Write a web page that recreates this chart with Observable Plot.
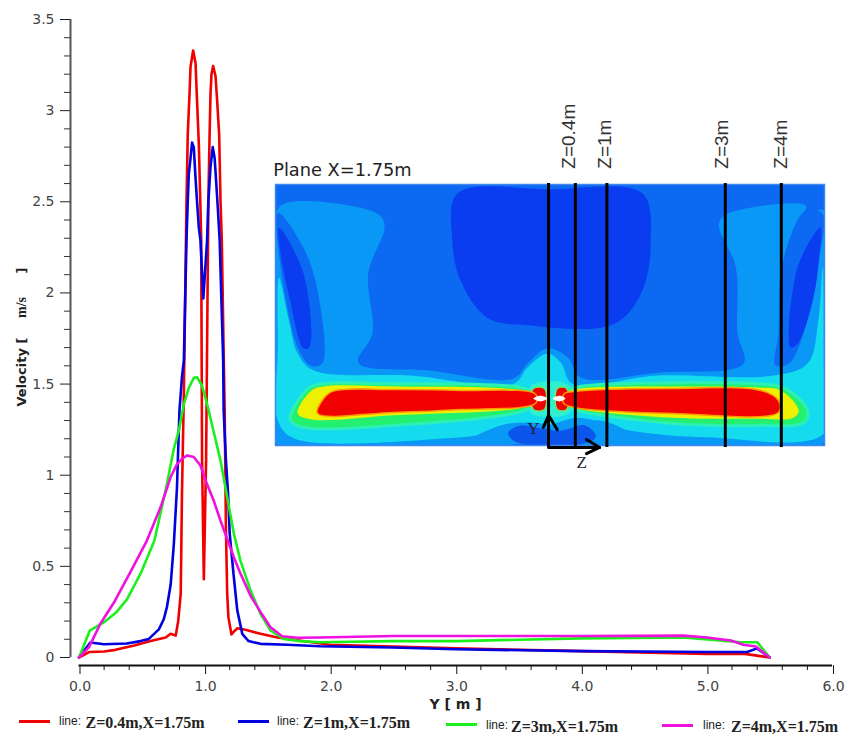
<!DOCTYPE html>
<html><head><meta charset="utf-8">
<script src="https://cdn.jsdelivr.net/npm/d3@7"></script>
<script src="https://cdn.jsdelivr.net/npm/@observablehq/plot@0.6"></script>
<style>
html,body{margin:0;padding:0;background:#fff;width:848px;height:737px;overflow:hidden}
#wrap{position:relative;width:848px;height:737px}
#wrap svg{position:absolute}
.sw{position:absolute;height:3px;width:31px}
.ln{position:absolute;font:12px "Liberation Sans",sans-serif;color:#222;white-space:nowrap}
.lb{position:absolute;font:bold 16px "Liberation Serif",serif;color:#222;white-space:nowrap}
</style></head><body><div id="wrap"></div>
<script>
// Velocity profiles: [Y (m), velocity (m/s)]
const redLine = [[0,0],[.08,.03],[.2,.033],[.29,.042],[.44,.066],[.57,.09],[.69,.11],[.73,.13],[.77,.12],[.79,.2],[.81,.35],[.82,.9],[.835,1.45],[.856,2.5],[.866,2.87],[.88,3.09],[.888,3.24],[.909,3.33],[.928,3.26],[.94,3.055],[.954,2.82],[.967,2.47],[.973,2.29],[.98,1.08],[.994,.43],[1.012,1.08],[1.03,2.5],[1.04,2.87],[1.047,3.09],[1.055,3.2],[1.068,3.245],[1.087,3.19],[1.1,3.055],[1.116,2.87],[1.127,2.5],[1.137,2.29],[1.153,1.63],[1.16,1.355],[1.17,.715],[1.18,.35],[1.19,.22],[1.214,.126],[1.23,.14],[1.26,.16],[1.325,.152],[1.445,.13],[1.58,.11],[1.71,.097],[2,.07],[2.5,.06],[3,.05],[4,.035],[5,.02],[5.3,.02],[5.5,0]];
const blueLine = [[0,0],[.09,.082],[.2,.073],[.38,.077],[.49,.09],[.556,.102],[.636,.154],[.675,.21],[.7,.276],[.73,.4],[.755,.62],[.78,.93],[.8,1.355],[.82,1.54],[.835,1.63],[.856,2.29],[.866,2.5],[.874,2.65],[.888,2.74],[.9,2.825],[.914,2.8],[.928,2.63],[.94,2.5],[.954,2.36],[.967,2.29],[.99,1.97],[1.02,2.29],[1.03,2.5],[1.047,2.69],[1.065,2.8],[1.08,2.74],[1.095,2.58],[1.105,2.47],[1.12,2.29],[1.148,1.63],[1.152,1.355],[1.17,1.08],[1.187,.9],[1.2,.68],[1.23,.46],[1.26,.26],[1.3,.13],[1.35,.09],[1.445,.075],[1.66,.07],[1.92,.062],[2.5,.055],[3,.045],[4,.035],[5,.03],[5.32,.03],[5.4,.05],[5.5,0]];
const greenLine = [[0,0],[.086,.148],[.2,.194],[.3,.25],[.383,.32],[.49,.46],[.6,.64],[.7,.95],[.755,1.145],[.795,1.245],[.835,1.39],[.875,1.48],[.914,1.534],[.94,1.538],[.98,1.49],[1.02,1.39],[1.07,1.245],[1.127,1.08],[1.18,.88],[1.233,.68],[1.286,.53],[1.365,.37],[1.445,.24],[1.525,.148],[1.63,.102],[1.76,.09],[1.92,.084],[2.5,.09],[3,.09],[4,.105],[4.81,.11],[5.1,.093],[5.27,.084],[5.4,.084],[5.5,0]];
const magentaLine = [[0,0],[.08,.057],[.17,.185],[.277,.3],[.41,.47],[.54,.64],[.65,.825],[.73,.99],[.78,1.06],[.82,1.09],[.86,1.108],[.914,1.1],[.967,1.053],[1.02,.95],[1.073,.86],[1.127,.75],[1.18,.65],[1.233,.55],[1.286,.46],[1.365,.34],[1.445,.25],[1.525,.166],[1.618,.117],[1.74,.108],[1.92,.11],[2.5,.118],[3,.118],[4,.118],[4.81,.12],[5,.11],[5.19,.093],[5.29,.07],[5.39,.06],[5.5,0]];
const seriesLines = [redLine, blueLine, greenLine, magentaLine];
const seriesColors = ["#f00000","#0000e0","#1cf01c","#f010e0"];
const legendNames = ["Z=0.4m,X=1.75m","Z=1m,X=1.75m","Z=3m,X=1.75m","Z=4m,X=1.75m"];

const xMajor = [0,1,2,3,4,5,6];
const xMinor = [.2,.4,.6,.8,1.2,1.4,1.6,1.8,2.2,2.4,2.6,2.8,3.2,3.4,3.6,3.8,4.2,4.4,4.6,4.8,5.2,5.4,5.6,5.8];
const yMajor = [0,.5,1,1.5,2,2.5,3,3.5];
const yMinor = [.1,.2,.3,.4,.6,.7,.8,.9,1.1,1.2,1.3,1.4,1.6,1.7,1.8,1.9,2.1,2.2,2.3,2.4,2.6,2.7,2.8,2.9,3.1,3.2,3.3,3.4];

// Inset contour regions, in plane coordinates [Z (m), Y (m)]
const lightRegion = [[-4.68,4.84],[-4.49,5.07],[-2.93,4.84],[-2.81,4.59],[-3.09,3.59],[-3.02,2.34],[-3.26,1.73],[-2.08,1.57],[-.6,1.4],[-.36,1.71],[-.02,2.03],[.33,1.84],[.55,1.42],[1.87,1.52],[3.34,1.71],[3.24,2.34],[3.21,3.72],[2.92,4.63],[3.07,4.84],[4.41,5.01],[4.37,4.8],[4.72,4.91],[4.72,.06],[0,.06],[-4.68,.06]];
const midLeft = [[-4.64,4.86],[-4.2,4.13],[-3.96,3.24],[-3.88,1.71],[-4.08,1.67],[-4.3,2.05],[-4.59,3.72]];
const midRight = [[4.01,3.8],[4.41,4.91],[4.7,4.84],[4.63,3.86],[4.37,2.34],[4.12,1.71],[3.89,1.67],[3.94,2.34]];
const darkLeft = [[-4.62,4.55],[-4.2,3.59],[-4.1,2.05],[-4.2,2.03],[-4.43,3.03],[-4.6,4.07]];
const darkRight = [[4.66,4.55],[4.27,3.72],[4.15,2.05],[4.27,2.13],[4.53,3.03],[4.65,4.07]];
const darkTop = [[-1.56,5.26],[-1.65,4.28],[-1.51,3.45],[-1.05,2.67],[-.36,2.51],[.89,2.46],[1.29,2.67],[1.63,3.3],[1.75,4.22],[1.61,5.26],[0,5.35]];
const cyanRegion = [[-4.62,3.51],[-4.46,2.67],[-4.3,1.92],[-4.03,1.57],[-2.37,1.46],[-.6,1.29],[-.36,1.63],[-.02,1.92],[.21,1.73],[.41,1.29],[1.87,1.46],[3.86,1.46],[4.44,1.71],[4.63,2.67],[4.7,3.72],[4.72,1.63],[4.72,.25],[2.73,.17],[1.41,.31],[.5,.58],[0,.42],[-.69,.31],[-1.73,.15],[-4.37,.15],[-4.64,.52],[-4.64,2]];
const lightBlob = [[-1.34,.1],[-.82,.42],[-.31,.48],[.21,.42],[.89,.52],[1.41,.27],[1.75,.06],[0,.06]];
const midBlob = [[-.69,.27],[-.48,.42],[-.14,.36],[.21,.31],[.63,.42],[.81,.21],[.72,.08],[-.57,.08]];
const greenLeft = [[-4.43,.58],[-4.2,1.09],[-4.03,1.25],[-2.66,1.29],[-.48,1.21],[-.27,1.09],[-.27,.85],[-.53,.69],[-2.66,.42],[-4.08,.36],[-4.37,.46]];
const greenRight = [[.27,1.09],[.46,1.21],[1.29,1.29],[3.58,1.29],[4.03,1.21],[4.44,.73],[4.37,.48],[3.58,.42],[2.14,.46],[.5,.73],[.27,.85]];
const yellowLeft = [[-4.3,.67],[-4.08,1.13],[-3.87,1.23],[-2.66,1.23],[-.48,1.15],[-.27,1.04],[-.27,.88],[-.53,.77],[-2.66,.63],[-4.03,.54]];
const yellowRight = [[.26,1.07],[.46,1.17],[2.14,1.23],[3.58,1.21],[3.98,1.15],[4.29,.73],[4.2,.58],[3.58,.56],[2.14,.58],[.5,.77],[.26,.88]];
const redLeft = [[-3.7,1.13],[-2.66,1.17],[-1.51,1.15],[-.22,1.07],[-.22,.88],[-1.51,.75],[-2.66,.69],[-3.96,.67],[-3.88,.94]];
const redRight = [[.26,1.07],[.46,1.13],[2.14,1.19],[3.64,1.15],[3.94,.94],[3.94,.69],[2.14,.67],[.46,.79],[.26,.88]];
const nozzleGlow = [[-.3,1.25],[.35,1.25],[.35,.68],[-.3,.68]];
const blockLeft = [[-.26,1.19],[-.07,1.19],[-.07,.75],[-.26,.75]];
const blockRight = [[.15,1.19],[.31,1.19],[.31,.75],[.15,.75]];
const whiteLeft = [[-.26,.98],[-.14,1.04],[-.02,.98],[-.14,.92]];
const whiteRight = [[.07,.98],[.19,1.04],[.29,.98],[.19,.92]];

const regions = [
  [lightRegion,"#0a98f6"],[midLeft,"#0b69f2"],[midRight,"#0b69f2"],[darkLeft,"#0a3cf0"],[darkRight,"#0a3cf0"],
  [darkTop,"#0a3cf0"],[cyanRegion,"#14dcee"],[lightBlob,"#0a98f6"],[midBlob,"#0b55ea"],[nozzleGlow,"#2ff0d0"]
];
const greenRegions = [greenLeft, greenRight];
const yellowRegions = [yellowLeft, yellowRight];
const hotRegions = [redLeft, redRight];
const blockRegions = [blockLeft, blockRight];
const whiteRegions = [whiteLeft, whiteRight];

const sectionZ = [0,.46,1,3.03,3.99];
const sectionNames = ["Z=0.4m","Z=1m","Z=3m","Z=4m"];
const sectionLabelZ = [.46,1.07,3.08,4.09];
const yArrow = [[-.09,.38],[0,.63],[.15,.33]];
const zArrow = [[.65,.125],[.875,-.04],[.65,-.17]];
const zShaft = [[0,-.04],[.875,-.04]];

const font = '"DejaVu Sans",sans-serif';
const textColor = "#444";

const main = Plot.plot({
  width:848, height:714,
  marginLeft:70, marginRight:16, marginTop:19, marginBottom:49,
  style:{fontFamily:font, background:"transparent", overflow:"visible"},
  x:{domain:[0,6], insetLeft:8.5, axis:null},
  y:{domain:[0,3.5], insetBottom:8, axis:null},
  marks:[
    Plot.ruleX([-.0677],{y1:0,y2:3.5,stroke:"#555",strokeWidth:2}),
    Plot.ruleY([-.044],{x1:0,x2:6,stroke:"#111",strokeWidth:2}),
    Plot.axisY(yMinor,{tickSize:6,fill:"none",label:null,stroke:"#333"}),
    Plot.axisY(yMajor,{tickSize:10,tickPadding:6,fontSize:14,fill:textColor,stroke:"#222",label:null,tickFormat:d=>String(d)}),
    Plot.axisX(xMinor,{tickSize:5,fill:"none",label:null,stroke:"#111"}),
    Plot.axisX(xMajor,{tickSize:9,tickPadding:7,fontSize:14,fill:textColor,stroke:"#111",label:null,dx:1,tickFormat:d=>d.toFixed(1)}),
    ...seriesLines.map((s,i)=>Plot.line(s,{x:d=>d[0],y:d=>d[1],stroke:seriesColors[i],strokeWidth:2.6})),
    Plot.text(["Y [ m ]"],{frameAnchor:"bottom-left",dx:385,dy:43,fontWeight:"bold",fontSize:14,textAnchor:"middle",lineAnchor:"bottom",fill:"#222"}),
    Plot.text(["Velocity ["],{frameAnchor:"left",dx:-45,dy:64,rotate:-90,fontWeight:"bold",fontSize:13,textAnchor:"start",lineAnchor:"bottom",fill:"#222"}),
    Plot.text(["m/s"],{frameAnchor:"left",dx:-45,dy:-35,rotate:-90,fontWeight:"bold",fontSize:14,fontFamily:'"Liberation Serif",serif',textAnchor:"middle",lineAnchor:"bottom",fill:"#222"}),
    Plot.text(["]"],{frameAnchor:"left",dx:-45,dy:-72,rotate:-90,fontWeight:"bold",fontSize:13,textAnchor:"middle",lineAnchor:"bottom",fill:"#222"})
  ]
});
main.style.left="0"; main.style.top="0";

const poly = (pts,fill,extra={})=>Plot.line(pts,{x:d=>d[0],y:d=>d[1],fill,stroke:"none",curve:"catmull-rom-closed",clip:true,...extra});
const inset = Plot.plot({
  width:586, height:380,
  marginLeft:13, marginRight:24, marginTop:89, marginBottom:30,
  style:{background:"transparent", overflow:"visible"},
  x:{domain:[-4.68,4.73], axis:null},
  y:{domain:[0,5.45], axis:null},
  marks:[
    Plot.frame({fill:"#0b69f2"}),
    ...regions.map(([p,c])=>poly(p,c)),
    ...greenRegions.map(p=>poly(p,"#24f070",{stroke:"#2cf0b4",strokeWidth:3})),
    ...yellowRegions.map(p=>poly(p,"#eef000")),
    ...blockRegions.map(p=>poly(p,"#f00000",{stroke:"#70e860",strokeWidth:1.5})),
    ...hotRegions.map(p=>poly(p,"#f00000",{stroke:"#ff9a00",strokeWidth:1.5})),
    ...whiteRegions.map(p=>poly(p,"#ffffff")),
    Plot.frame({stroke:"#3f86f0",strokeWidth:1.5}),
    Plot.ruleX(sectionZ,{y1:-.04,y2:5.47,stroke:"#000",strokeWidth:3}),
    Plot.line(zShaft,{x:d=>d[0],y:d=>d[1],stroke:"#000",strokeWidth:3}),
    Plot.line(yArrow,{x:d=>d[0],y:d=>d[1],stroke:"#000",strokeWidth:3}),
    Plot.line(zArrow,{x:d=>d[0],y:d=>d[1],stroke:"#000",strokeWidth:3}),
    Plot.text(sectionNames,{x:(d,i)=>sectionLabelZ[i],y:()=>5.78,rotate:-90,fontSize:19,fontFamily:'"Liberation Sans",sans-serif',textAnchor:"start",lineAnchor:"bottom",fill:"#333"}),
    Plot.text(["Plane X=1.75m"],{x:()=>-4.72,y:()=>5.62,fontSize:17.8,fontFamily:font,textAnchor:"start",lineAnchor:"bottom",fill:"#222"}),
    Plot.text(["Y"],{x:()=>-.26,y:()=>.25,fontSize:17,fontFamily:'"Liberation Serif",serif',textAnchor:"middle",lineAnchor:"bottom",fill:"#223"}),
    Plot.text(["Z"],{x:()=>.57,y:()=>-.48,fontSize:17,fontFamily:'"Liberation Serif",serif',textAnchor:"middle",lineAnchor:"bottom",fill:"#223"})
  ]
});
inset.style.left="262px"; inset.style.top="95px";

const wrap = document.getElementById("wrap");
wrap.append(main, inset);
const swatchLeft=[19,238,446,662], swatchTop=[720,720,723,724];
const lineLeft=[59,277,486,703], lineTop=[714,714,718,718];
const nameLeft=[85.5,303,511,731], nameTop=[714,714,718,718];
legendNames.forEach((n,i)=>{
  const s=document.createElement("div");s.className="sw";s.style.cssText=`left:${swatchLeft[i]}px;top:${swatchTop[i]}px;background:${seriesColors[i]}`;
  const l=document.createElement("div");l.className="ln";l.style.cssText=`left:${lineLeft[i]}px;top:${lineTop[i]}px`;l.textContent="line:";
  const b=document.createElement("div");b.className="lb";b.style.cssText=`left:${nameLeft[i]}px;top:${nameTop[i]}px`;b.textContent=n;
  wrap.append(s,l,b);
});
</script></body></html>
